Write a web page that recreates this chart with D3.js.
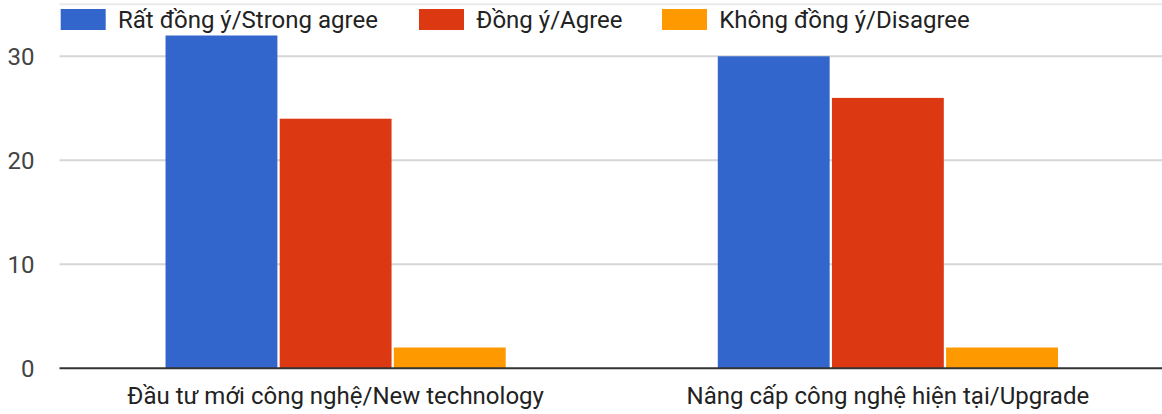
<!DOCTYPE html>
<html>
<head>
<meta charset="utf-8">
<script src="https://cdn.jsdelivr.net/npm/d3@7"></script>
<style>
  html, body { margin: 0; padding: 0; background: #fff; }
  svg { display: block; font-family: Roboto, Arial, sans-serif; }
</style>
</head>
<body>
<svg id="chart" width="1162" height="414"></svg>
<script>
// Survey responses per technology question
const categories = ["Đầu tư mới công nghệ/New technology", "Nâng cấp công nghệ hiện tại/Upgrade"];
const seriesNames = ["Rất đồng ý/Strong agree", "Đồng ý/Agree", "Không đồng ý/Disagree"];
const strongAgree = [32, 30];
const agree = [24, 26];
const disagree = [2, 2];
const yTicks = [0, 10, 20, 30];
const yMax = 35;
const colors = ["#3366cc", "#dc3912", "#ff9900"];

const seriesValues = [strongAgree, agree, disagree];

const svg = d3.select("#chart");
const W = 1162, H = 414;
const margin = { left: 59.5, right: -2, top: 4.3, bottom: 45.7 };
const plotBottom = H - margin.bottom;

const y = d3.scaleLinear().domain([0, yMax]).range([plotBottom, margin.top]);
const x0 = d3.scaleBand().domain(categories)
  .range([margin.left, W - margin.right])
  .paddingInner(0.384).paddingOuter(0.192);
const x1 = d3.scaleBand().domain(d3.range(seriesNames.length))
  .range([0, x0.bandwidth()]).paddingInner(0.02);

// top edge of plot area
svg.append("line")
  .attr("x1", margin.left).attr("x2", W)
  .attr("y1", y(yMax)).attr("y2", y(yMax))
  .attr("stroke", "#ebebeb").attr("stroke-width", 2);

// gridlines
svg.append("g").selectAll("line").data(yTicks.filter(d => d !== 0)).join("line")
  .attr("x1", margin.left).attr("x2", W)
  .attr("y1", d => y(d)).attr("y2", d => y(d))
  .attr("stroke", "#d6d6d6").attr("stroke-width", 2);

// y tick labels
svg.append("g").selectAll("text").data(yTicks).join("text")
  .attr("x", 34.5).attr("y", d => y(d))
  .attr("dy", "0.36em")
  .attr("text-anchor", "end")
  .attr("font-size", 24)
  .attr("fill", "#444")
  .text(d => d);

// bars
const groups = svg.append("g").selectAll("g").data(categories).join("g")
  .attr("transform", d => `translate(${x0(d)},0)`);
groups.selectAll("rect")
  .data((c, i) => seriesValues.map((vals, s) => ({ s, v: vals[i] })))
  .join("rect")
  .attr("x", d => x1(d.s))
  .attr("width", x1.bandwidth())
  .attr("y", d => y(d.v))
  .attr("height", d => y(0) - y(d.v))
  .attr("fill", d => colors[d.s]);

// baseline
svg.append("line")
  .attr("x1", margin.left).attr("x2", W)
  .attr("y1", y(0)).attr("y2", y(0))
  .attr("stroke", "#333").attr("stroke-width", 2);

// category labels
svg.append("g").selectAll("text").data(categories).join("text")
  .attr("x", d => x0(d) + x0.bandwidth() / 2)
  .attr("y", 404)
  .attr("text-anchor", "middle")
  .attr("font-size", 24)
  .attr("fill", "#222")
  .text(d => d);

// legend
const legendX = [60.7, 419, 662];
const legend = svg.append("g").selectAll("g").data(seriesNames).join("g")
  .attr("transform", (d, i) => `translate(${legendX[i]},9)`);
legend.append("rect")
  .attr("width", 45).attr("height", 21)
  .attr("fill", (d, i) => colors[i]);
legend.append("text")
  .attr("x", 57.3).attr("y", 10.5).attr("dy", "0.36em")
  .attr("font-size", 24)
  .attr("fill", "#222")
  .text(d => d);
</script>
</body>
</html>
